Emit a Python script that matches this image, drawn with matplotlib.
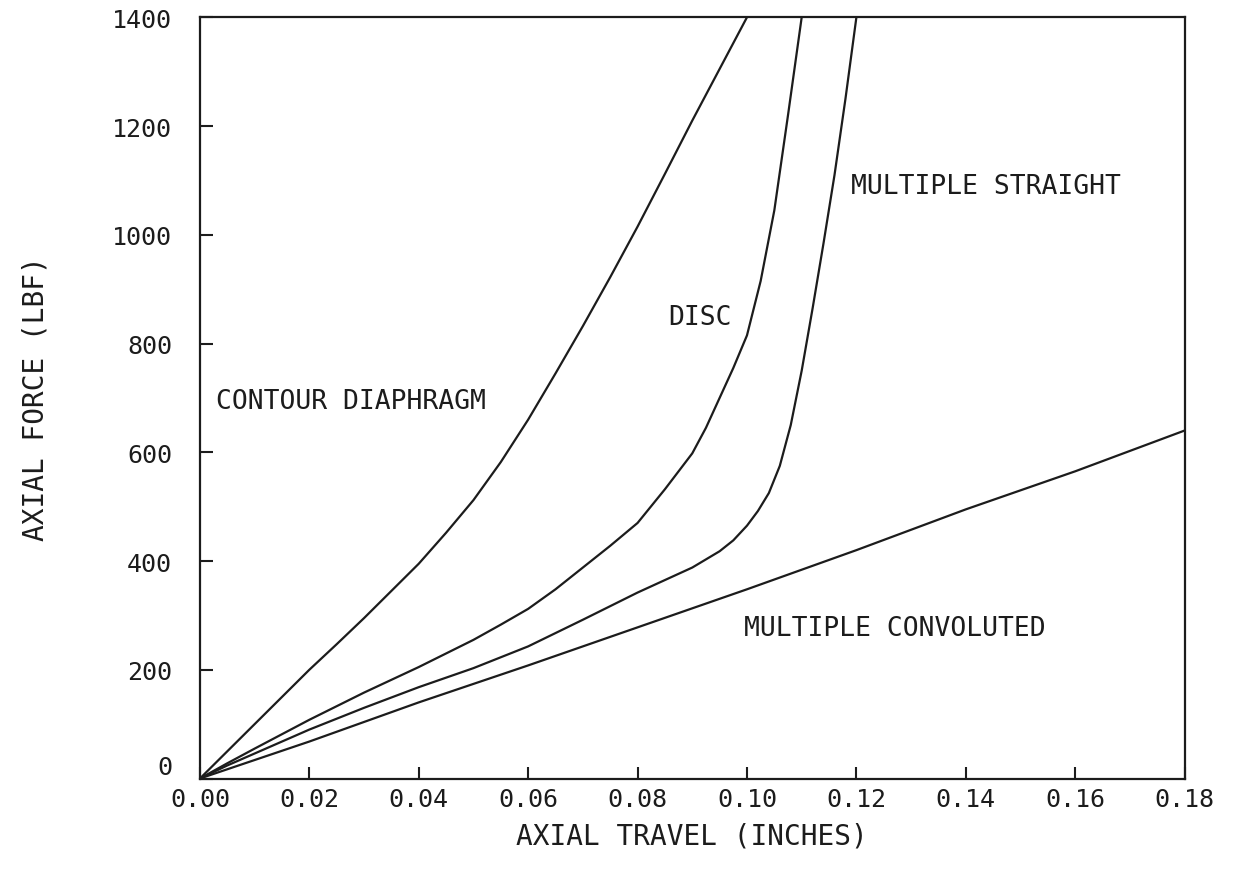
import matplotlib
matplotlib.use("Agg")
import matplotlib.pyplot as plt

plt.rcParams['font.family'] = ['DejaVu Sans Mono']

# axial force (lbf) vs axial travel (in)
contour_x = [0, 0.005, 0.01, 0.015, 0.02, 0.025, 0.03, 0.035, 0.04, 0.045, 0.05,
             0.055, 0.06, 0.065, 0.07, 0.075, 0.08, 0.085, 0.09, 0.095, 0.10]
contour_y = [0, 50, 100, 150, 200, 247, 295, 345, 395, 452, 512,
             582, 660, 745, 832, 922, 1015, 1112, 1210, 1305, 1400]

disc_x = [0, 0.005, 0.01, 0.02, 0.03, 0.04, 0.05, 0.055, 0.06, 0.065, 0.07, 0.075,
          0.08, 0.085, 0.09, 0.0925, 0.095, 0.0975, 0.10, 0.1025, 0.105, 0.1075, 0.11]
disc_y = [0, 28, 55, 108, 158, 205, 255, 283, 312, 348, 388, 428,
          470, 532, 598, 645, 700, 755, 815, 915, 1045, 1220, 1400]

straight_x = [0, 0.005, 0.01, 0.02, 0.03, 0.04, 0.05, 0.06, 0.07, 0.08, 0.085, 0.09,
              0.095, 0.0975, 0.100, 0.102, 0.104, 0.106, 0.108, 0.110, 0.112,
              0.114, 0.116, 0.118, 0.120]
straight_y = [0, 24, 46, 90, 130, 168, 203, 243, 292, 342, 365, 388,
              418, 438, 465, 492, 525, 575, 650, 750, 865,
              985, 1110, 1250, 1400]

convoluted_x = [0, 0.02, 0.04, 0.06, 0.08, 0.10, 0.12, 0.14, 0.16, 0.18]
convoluted_y = [0, 68, 140, 208, 278, 348, 420, 495, 565, 640]

x_ticks = [0, 0.02, 0.04, 0.06, 0.08, 0.10, 0.12, 0.14, 0.16, 0.18]
y_ticks = [0, 200, 400, 600, 800, 1000, 1200, 1400]

ink = '#1c1c1c'

fig = plt.figure(figsize=(12.34, 8.70), dpi=100)
ax = fig.add_axes([0.162, 0.104, 0.798, 0.875])

for xs, ys in [(contour_x, contour_y), (disc_x, disc_y),
               (straight_x, straight_y), (convoluted_x, convoluted_y)]:
    ax.plot(xs, ys, color=ink, lw=1.6, solid_joinstyle='round')

ax.set_xlim(0, 0.18)
ax.set_ylim(0, 1400)
ax.set_xticks(x_ticks)
ax.set_xticklabels(['%.2f' % v for v in x_ticks])
ax.set_yticks(y_ticks)
ax.tick_params(direction='in', length=9, width=1.5, colors=ink, labelsize=18)
ax.tick_params(axis='y', pad=20)
ax.tick_params(axis='x', pad=6)
# the "0" label sits just above "0.00" as in the original plot
ax.get_yticklabels()[0].set_va('bottom')
for s in ax.spines.values():
    s.set_linewidth(1.6)
    s.set_color(ink)

ax.set_xlabel('AXIAL TRAVEL (INCHES)', fontsize=20, color=ink, labelpad=8)
ax.set_ylabel('AXIAL FORCE (LBF)', fontsize=20, color=ink, labelpad=45)

ax.text(0.003, 695, 'CONTOUR DIAPHRAGM', fontsize=19, color=ink, va='center')
ax.text(0.0856, 848, 'DISC', fontsize=19, color=ink, va='center')
ax.text(0.119, 1090, 'MULTIPLE STRAIGHT', fontsize=19, color=ink, va='center')
ax.text(0.0995, 277, 'MULTIPLE CONVOLUTED', fontsize=19, color=ink, va='center')

fig.savefig('out.png', dpi=100)
